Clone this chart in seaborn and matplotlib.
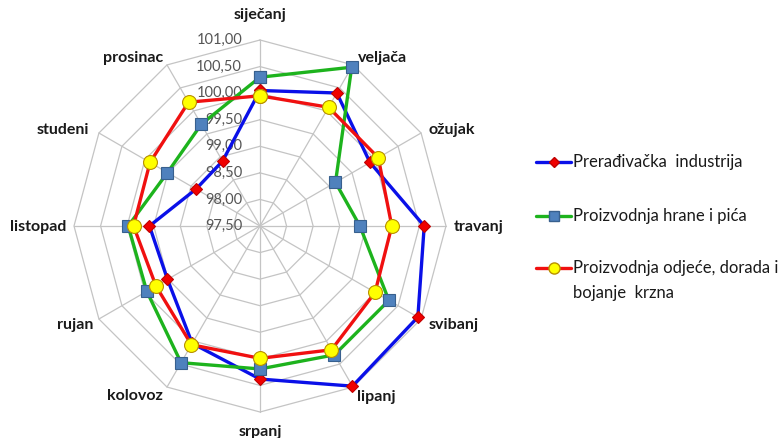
import numpy as np
import matplotlib
matplotlib.use("Agg")
import matplotlib.pyplot as plt
from matplotlib.lines import Line2D
import seaborn as sns

# Monthly indices, three branches of industry
months = ["siječanj", "veljača", "ožujak", "travanj", "svibanj", "lipanj",
          "srpanj", "kolovoz", "rujan", "listopad", "studeni", "prosinac"]
prerada = [100.05, 100.39, 99.89, 100.59, 100.93, 100.98,
           100.38, 100.05, 99.51, 99.58, 98.89, 98.91]
hrana = [100.30, 100.95, 99.14, 99.38, 100.30, 100.30,
         100.19, 100.47, 99.96, 99.98, 99.51, 99.71]
odjeca = [99.95, 100.08, 100.07, 99.98, 100.00, 100.19,
          99.99, 100.08, 99.76, 99.88, 99.89, 100.19]
series_names = ["Prerađivačka  industrija", "Proizvodnja hrane i pića",
                "Proizvodnja odjeće, dorada i\nbojanje  krzna"]
ticks = [97.5, 98.0, 98.5, 99.0, 99.5, 100.0, 100.5, 101.0]
tick_labels = ["97,50", "98,00", "98,50", "99,00", "99,50", "100,00", "100,50", "101,00"]

sns.set_style("white")
plt.rcParams["font.family"] = ["Lato", "DejaVu Sans"]

W, H = 783, 438
fig = plt.figure(figsize=(W / 100, H / 100), dpi=100)
cx, cy, R = 260, 226, 186
ax = fig.add_axes([(cx - R) / W, (H - cy - R) / H, 2 * R / W, 2 * R / H],
                  projection="polar")
ax.set_theta_zero_location("N")
ax.set_theta_direction(-1)
ax.set_ylim(ticks[0], ticks[-1])
ax.set_xticks([])
ax.set_yticks([])
ax.spines["polar"].set_visible(False)
ax.patch.set_alpha(0)

n = len(months)
theta = np.arange(n) * 2 * np.pi / n
theta_c = np.append(theta, theta[0] + 2 * np.pi)

# polygonal web: rings and spokes
grid_col = "#c4c4c4"
for t in ticks[1:]:
    ax.plot(theta_c, [t] * (n + 1), color=grid_col, lw=0.9, zorder=1, clip_on=False)
for th in theta:
    ax.plot([th, th], [ticks[0], ticks[-1]], color=grid_col, lw=0.9, zorder=1,
            clip_on=False)

styles = [
    dict(color="#0a10e8", marker="D", markersize=6.5, markerfacecolor="#f00000",
         markeredgecolor="#c00000"),
    dict(color="#1db31d", marker="s", markersize=8.5, markerfacecolor="#4f81bd",
         markeredgecolor="#38608e"),
    dict(color="#f01010", marker="o", markersize=10, markerfacecolor="#ffff00",
         markeredgecolor="#b89000"),
]
for vals, st in zip([prerada, hrana, odjeca], styles):
    sns.lineplot(x=theta_c, y=np.append(vals, vals[0]), sort=False, ax=ax,
                 lw=2.4, markeredgewidth=0.8, zorder=3, clip_on=False, **st)
ax.set_xlabel("")
ax.set_ylabel("")

# radial value labels along the top spoke
for t, lab in zip(ticks, tick_labels):
    ax.annotate(lab, xy=(0, t), xytext=(-18, 0), textcoords="offset pixels",
                ha="right", va="center", fontsize=10.5, color="#555555", zorder=2)

# month labels around the web
label_offsets = [(0, 25, "center"), (5, 7, "left"), (7, 3, "left"), (8, -1, "left"),
                 (8, -6, "left"), (4, -10, "left"), (0, -20, "center"),
                 (-4, -9, "right"), (-6, -6, "right"), (-8, -1, "right"),
                 (-10, 3, "right"), (-4, 7, "right")]
for th, m, (dx, dy, ha) in zip(theta, months, label_offsets):
    ax.annotate(m, xy=(th, ticks[-1]), xytext=(dx, dy), textcoords="offset pixels",
                ha=ha, va="center", fontsize=11.5, fontweight="bold", color="#1a1a1a")

# legend on the right
leg_y = [162, 216, 268]
for y, name, st in zip(leg_y, series_names, styles):
    yf = 1 - y / H
    fig.add_artist(Line2D([536 / W, 571 / W], [yf, yf], color=st["color"], lw=2.4,
                          transform=fig.transFigure))
    fig.add_artist(Line2D([553.5 / W], [yf], lw=0, marker=st["marker"],
                          markersize=st["markersize"] * 0.8,
                          markerfacecolor=st["markerfacecolor"],
                          markeredgecolor=st["markeredgecolor"],
                          transform=fig.transFigure))
    for k, ln in enumerate(name.split("\n")):
        fig.text(573 / W, 1 - (y + 25 * k) / H, ln, ha="left", va="center",
                 fontsize=12, color="#1a1a1a")

fig.savefig("out.png", dpi=100, facecolor="white")
